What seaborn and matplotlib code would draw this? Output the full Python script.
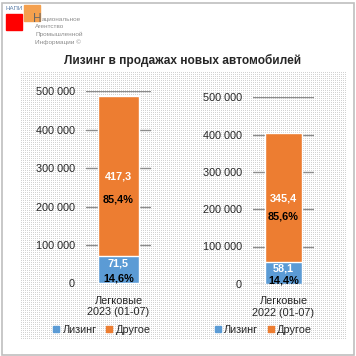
import numpy as np
import pandas as pd
import seaborn as sns
import matplotlib.pyplot as plt
from matplotlib.patches import Rectangle
from matplotlib.ticker import FuncFormatter

sns.set_style("white")
plt.rcParams['font.family'] = ['Liberation Sans', 'DejaVu Sans']

# data (thousand cars)
periods = ["Легковые\n2023 (01-07)", "Легковые\n2022 (01-07)"]
leasing = [71.5, 58.1]
other = [417.3, 345.4]
leasing_pct = ["14,6%", "14,4%"]
other_pct = ["85,4%", "85,6%"]
series = ["Лизинг", "Другое"]
yticks = [0, 100000, 200000, 300000, 400000, 500000]

BLUE = "#5B9BD5"
ORANGE = "#ED7D31"
GRID = "#8C8C8C"

W = H = 356
fig = plt.figure(figsize=(W / 100, H / 100), dpi=100)


def box(x0, y0, x1, y1):
    # pixel box (top-left origin) -> figure fraction
    return [x0 / W, 1 - y1 / H, (x1 - x0) / W, (y1 - y0) / H]


# outer frame
fig.patches.append(Rectangle((1.5 / W, 1.5 / H), (W - 4) / W, (H - 4) / H,
                             transform=fig.transFigure, fill=False,
                             edgecolor="#BFBFBF", linewidth=1.2))

# dotted background
bg = fig.add_axes(box(21, 72, 346, 340), zorder=-1)
pat = np.zeros((268, 325))
pat[::2, ::2] = 1
bg.imshow(pat, cmap=sns.blend_palette(["white", "#D2D2D2"], as_cmap=True),
          interpolation="nearest", aspect="auto")
bg.axis("off")

# logo
fig.patches.append(Rectangle(box(24, 5, 40, 21)[:2], 16 / W, 16 / H,
                             transform=fig.transFigure, color="#F4A04E", zorder=1))
fig.patches.append(Rectangle(box(6, 14, 22, 30)[:2], 16 / W, 16 / H,
                             transform=fig.transFigure, color="#FF0000", zorder=2))
fig.text(6 / W, 1 - 8 / H, "НАПИ", fontsize=4.4, color="#5A7DA8", va="center")
fig.text(33 / W, 1 - 22 / H, "Н", fontsize=8.5, color="#666666", va="baseline", zorder=3)
logo_lines = ["ациональное", "Агентство", "Промышленной", "Информации ©"]
for i, t in enumerate(logo_lines):
    fig.text((42 if i == 0 else 35) / W, 1 - (19 + 7.7 * i) / H, t,
             fontsize=4.6, color="#8C8C8C", va="center")

fig.text(183 / W, 1 - 60 / H, "Лизинг в продажах новых автомобилей",
         fontsize=8.6, fontweight="bold", ha="center", va="center")

axes_px = [(86, 91.3, 151, 283.3), (253, 97.3, 314, 283.8)]
legend_cx = [102, 263.5]

fmt = FuncFormatter(lambda v, p: f"{int(v):,}".replace(",", " "))

for i in range(2):
    ax = fig.add_axes(box(*axes_px[i]))
    ax.patch.set_alpha(0)
    total = (leasing[i] + other[i]) * 1000
    df = pd.DataFrame({"period": [periods[i]], "total": [total],
                       "leasing": [leasing[i] * 1000]})
    sns.barplot(data=df, x="period", y="total", color=ORANGE, width=0.62,
                saturation=1, ax=ax, zorder=2)
    sns.barplot(data=df, x="period", y="leasing", color=BLUE, width=0.62,
                saturation=1, ax=ax, zorder=3)
    ax.set_ylim(0, 500000)
    ax.set_yticks(yticks)
    ax.yaxis.set_major_formatter(fmt)
    ax.grid(axis="y", color=GRID, linewidth=1)
    ax.set_axisbelow(True)
    sns.despine(ax=ax, left=True, bottom=True)
    ax.tick_params(axis="y", length=0, pad=8, labelsize=7.8)
    ax.tick_params(axis="x", length=0, pad=9, labelsize=7.8)
    ax.set_xlabel("")
    ax.set_ylabel("")

    lv = leasing[i] * 1000
    mid = (lv + total) / 2
    lab = dict(fontsize=7.8, fontweight="bold", ha="center",
               va="center_baseline", zorder=5)
    ax.text(0, mid, f"{other[i]:.1f}".replace(".", ","), color="white", **lab)
    ax.text(0, mid - 0.12 * total, other_pct[i], color="black", **lab)
    ax.text(0, lv * 0.74, f"{leasing[i]:.1f}".replace(".", ","), color="white", **lab)
    ax.text(0, lv * 0.22, leasing_pct[i], color="black", **lab)

    handles = [Rectangle((0, 0), 1, 1, color=BLUE), Rectangle((0, 0), 1, 1, color=ORANGE)]
    fig.legend(handles, series, loc="center",
               bbox_to_anchor=(legend_cx[i] / W, 1 - 330 / H), ncol=2,
               frameon=False, fontsize=7.8, handlelength=0.55, handleheight=0.55,
               handletextpad=0.3, columnspacing=0.9, borderpad=0)

fig.savefig("out.png", dpi=100)
